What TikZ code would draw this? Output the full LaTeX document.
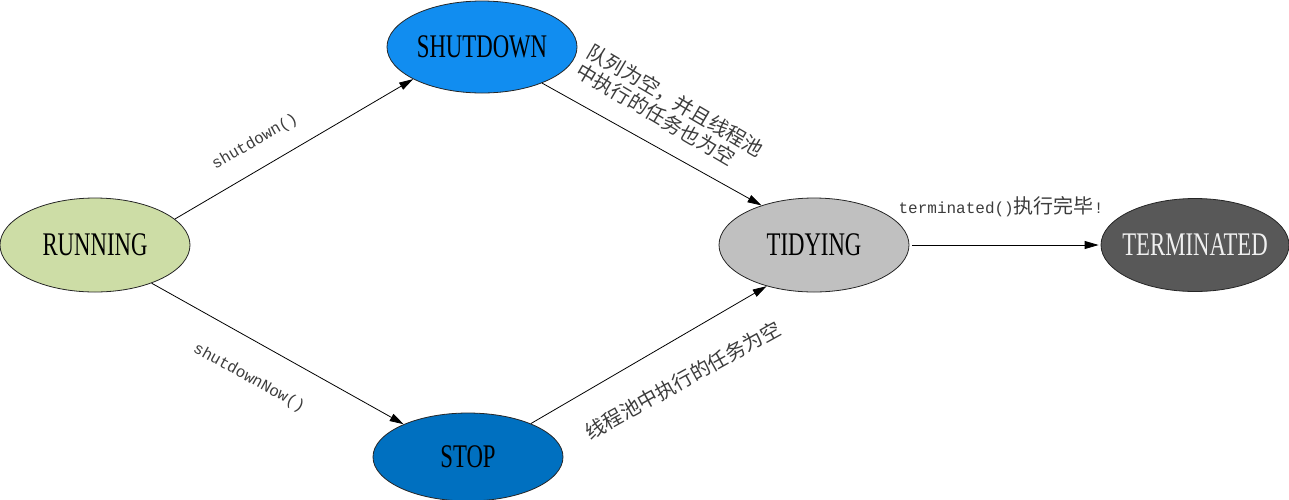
\documentclass[tikz,border=0pt]{standalone}
\usepackage{fontspec}
\setmainfont{Liberation Serif}
\newfontfamily\statefont[FakeStretch=0.69]{Liberation Serif}
\newfontfamily\codefont{Liberation Mono}
\newfontfamily\cjk{Noto Sans CJK SC}
\newcommand{\zhtext}[1]{{\cjk\fontsize{20}{22}\selectfont #1}}
\usepackage{tikz}
\usetikzlibrary{arrows.meta,shapes.geometric}
\definecolor{runfill}{RGB}{205,221,166}
\definecolor{shutfill}{RGB}{17,141,240}
\definecolor{stopfill}{RGB}{0,112,192}
\definecolor{tidyfill}{RGB}{192,192,192}
\definecolor{termfill}{RGB}{88,88,88}
\definecolor{lbltext}{RGB}{60,60,60}

\begin{document}
\begin{tikzpicture}[x=1pt,y=-1pt,
    state/.style={ellipse,draw=black!85,line width=0.8pt,minimum width=190pt,minimum height=94pt,
      inner xsep=-12pt,inner ysep=0pt,font=\statefont\fontsize{33}{36}\selectfont},
    trans/.style={-{Triangle[length=14pt,width=8pt]},line width=0.8pt},
    lbl/.style={text=lbltext,inner sep=0pt,font=\codefont\fontsize{16}{20}\selectfont}]
  \useasboundingbox (0,0) rectangle (1289,499);
  % states
  \node[state,fill=runfill] (run) at (95,245) {RUNNING};
  \node[state,fill=shutfill,minimum height=92pt] (shut) at (482,47) {SHUTDOWN};
  \node[state,fill=stopfill,minimum height=88pt] (stop) at (468,457) {STOP};
  \node[state,fill=tidyfill] (tidy) at (814,245) {TIDYING};
  \node[state,fill=termfill,text=white!94!black,minimum width=188pt,minimum height=93pt] (term) at (1195,245) {TERMINATED};
  % transitions
  \draw[trans] (run.18) -- (shut.205);
  \draw[trans] (shut.-31) -- (tidy.143);
  \draw[trans] (run.-34) -- (stop.153);
  \draw[trans] (stop.28) -- (tidy.221);
  \draw[trans,shorten <=3pt,shorten >=2pt] (tidy.east) -- (term.west);
  % labels
  \node[lbl,rotate=30] (lshut) at (255,142) {shutdown()};
  \node[lbl,rotate=-29] (lnow) at (249,378) {shutdownNow()};
  \node[lbl,rotate=-30.5,align=left,font=\cjk\fontsize{20}{22}\selectfont] (lempty) at (670,110)
    {队列为空，并且线程池\\中执行的任务也为空};
  \node[lbl,rotate=29,font=\cjk\fontsize{20}{22}\selectfont] (ltask) at (683,380) {线程池中执行的任务为空};
  \node[lbl] (lterm) at (1001,207) {terminated()\zhtext{执行完毕}!};
\end{tikzpicture}
\end{document}
